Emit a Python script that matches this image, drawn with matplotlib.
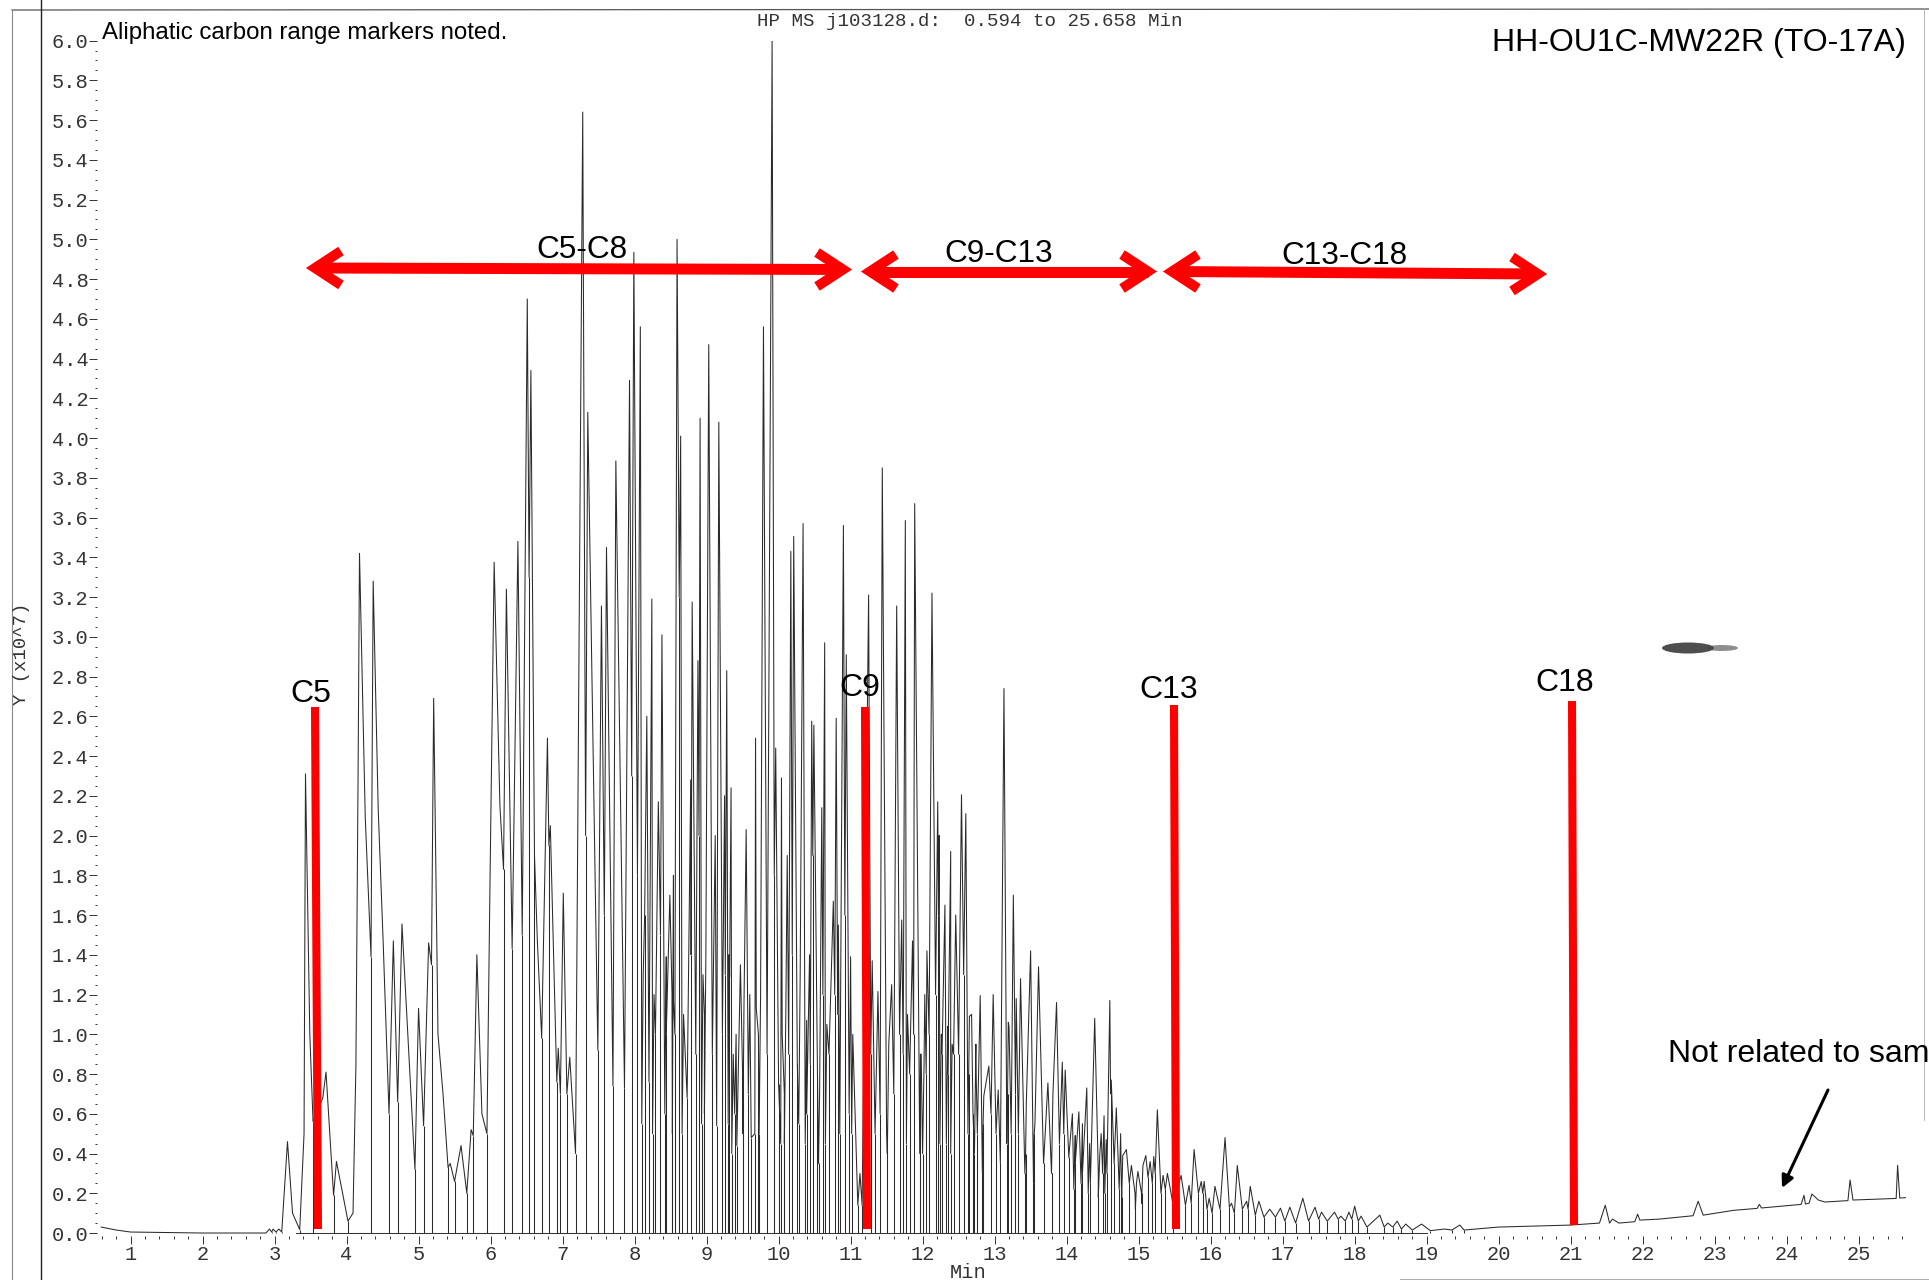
import matplotlib
matplotlib.use('Agg')
import matplotlib.pyplot as plt
import numpy as np
from matplotlib.patches import Ellipse

W, H = 1929, 1280

# flat start of the run, no drop lines
start_t = [0.594, 0.8, 1.0, 2.0, 2.88]
start_y = [0.03, 0.015, 0.005, 0.0, 0.0]

# peaks and valleys up to 8 min
early_peak_t = [2.93, 2.98, 3.06, 3.18, 3.43, 3.715, 3.86, 4.18, 4.37, 4.65, 4.77, 5.0, 5.14, 5.21, 5.44, 5.59, 5.73, 5.81,
                6.05, 6.22, 6.38, 6.51, 6.56, 6.65, 6.79, 6.83, 6.94, 7.01, 7.10, 7.28, 7.35, 7.54, 7.61, 7.74, 7.93, 7.99]
early_peak_y = [0.02, 0.02, 0.02, 0.46, 2.31, 0.81, 0.36, 3.42, 3.28, 1.47, 1.555, 1.13, 1.46, 2.69, 0.35, 0.44, 0.52, 1.40,
                3.375, 3.24, 3.48, 4.70, 4.34, 1.47, 2.49, 2.05, 0.93, 1.71, 0.885, 5.64, 4.13, 3.155, 3.45, 3.885, 4.29, 4.935]
early_valley_t = [2.96, 3.02, 3.10, 3.35, 3.535, 3.82, 4.02, 4.34, 4.59, 4.71, 4.95, 5.07, 5.18, 5.41, 5.50, 5.67, 5.76, 5.95,
                  6.18, 6.30, 6.44, 6.535, 6.61, 6.71, 6.81, 6.92, 6.97, 7.06, 7.18, 7.32, 7.49, 7.58, 7.70, 7.86, 7.96, 8.04]
early_valley_y = [0.005, 0.005, 0.005, 0.017, 0.56, 0.19, 0.06, 1.39, 0.60, 0.66, 0.32, 0.54, 1.35, 0.33, 0.26, 0.20, 0.49, 0.50,
                  1.83, 1.43, 1.5, 3.3, 1.9, 0.98, 1.95, 0.76, 0.70, 0.70, 0.40, 2.0, 0.92, 1.6, 0.74, 0.73, 2.3, 1.8]

# shoulders on the rounded early peaks, no drop lines
shoulder_t = [3.25, 3.41, 3.42, 3.49, 3.67, 4.09, 4.13, 4.16, 4.26, 4.44, 4.51, 5.27, 5.34, 5.88, 5.99, 6.13]
shoulder_y = [0.10, 0.50, 1.39, 1.00, 0.68, 0.10, 0.84, 2.29, 2.09, 2.13, 1.45, 1.00, 0.70, 0.60, 1.70, 2.15]

# crowded part 8-11 min
mid_peak_t = [8.08, 8.17, 8.24, 8.33, 8.38, 8.49, 8.54, 8.59, 8.64, 8.78, 8.80, 8.88, 8.91, 9.03, 9.12, 9.17, 9.25, 9.28, 9.34,
              9.41, 9.47, 9.55, 9.60, 9.68, 9.79, 9.91, 9.96, 10.04, 10.12, 10.17, 10.21, 10.34, 10.43, 10.46, 10.49, 10.60,
              10.64, 10.76, 10.80, 10.83, 10.90, 10.94, 11.13]
mid_peak_y = [4.56, 2.6, 3.19, 2.17, 3.01, 1.7, 1.80, 5.0, 4.01, 2.28, 3.175, 2.88, 4.10, 4.47, 2.0, 4.08, 2.2, 2.83, 2.24,
              1.0, 1.35, 2.03, 1.2, 2.49, 4.56, 6.0, 2.44, 2.29, 1.9, 3.43, 3.505, 3.57, 1.4, 2.575, 2.555, 2.14,
              2.97, 1.67, 2.59, 1.55, 3.56, 2.91, 0.3]
mid_valley_t = [8.14, 8.20, 8.29, 8.36, 8.44, 8.52, 8.56, 8.62, 8.73, 8.785, 8.85, 8.895, 8.97, 9.08, 9.14, 9.22, 9.26, 9.31, 9.39,
                9.42, 9.50, 9.58, 9.62, 9.72, 9.84, 9.94, 10.00, 10.08, 10.14, 10.19, 10.26, 10.39, 10.44, 10.475, 10.54, 10.615,
                10.70, 10.78, 10.82, 10.85, 10.92, 11.10, 11.16]
mid_valley_y = [1.6, 0.76, 1.0, 1.5, 1.0, 1.2, 1.0, 3.2, 0.68, 1.4, 0.9, 2.0, 1.1, 0.9, 0.54, 1.0, 1.3, 1.4, 0.6,
                0.44, 0.8, 0.7, 0.48, 1.0, 0.9, 1.8, 0.75, 0.7, 0.9, 1.4, 0.85, 0.6, 0.85, 1.9, 0.8, 1.2,
                0.9, 1.2, 1.1, 0.5, 1.6, 0.14, 0.14]

# 11-15.5 min
late_peak_t = [11.25, 11.30, 11.38, 11.44, 11.57, 11.64, 11.71, 11.76, 11.86, 11.89, 12.03, 12.06, 12.13, 12.21, 12.23, 12.31,
               12.39, 12.46, 12.54, 12.60, 12.68, 12.74, 12.80, 12.92, 12.98, 13.05, 13.13, 13.20, 13.26, 13.30, 13.36, 13.50,
               13.61, 13.74, 13.86, 13.94, 13.98, 14.08, 14.17, 14.28, 14.39, 14.48, 14.52, 14.60, 14.62, 14.69, 14.83, 14.90,
               14.99, 15.10, 15.16, 15.21, 15.26, 15.34, 15.40]
late_peak_y = [3.21, 1.37, 1.215, 3.85, 1.25, 3.155, 1.575, 3.585, 1.47, 3.67, 1.2, 1.42, 3.22, 2.17, 2.0, 1.65,
               1.92, 1.6, 2.205, 2.11, 1.1, 0.95, 1.195, 0.84, 1.2, 0.72, 2.74, 1.04, 1.70, 1.18, 1.28, 1.42,
               1.34, 0.755, 1.16, 0.86, 0.82, 0.60, 0.61, 0.73, 1.08, 0.5, 0.59, 1.17, 0.77, 0.63, 0.42, 0.34,
               0.31, 0.39, 0.36, 0.385, 0.62, 0.29, 0.30]
late_valley_t = [11.28, 11.34, 11.41, 11.50, 11.60, 11.68, 11.73, 11.82, 11.875, 11.97, 12.05, 12.09, 12.18, 12.22, 12.27, 12.35,
                 12.43, 12.50, 12.57, 12.64, 12.70, 12.76, 12.84, 12.95, 13.02, 13.08, 13.18, 13.23, 13.29, 13.33, 13.43, 13.55,
                 13.68, 13.79, 13.90, 13.96, 14.03, 14.12, 14.22, 14.33, 14.44, 14.50, 14.56, 14.61, 14.66, 14.76, 14.87, 14.95,
                 15.04, 15.13, 15.19, 15.23, 15.31, 15.37, 15.48]
late_valley_y = [0.9, 0.5, 0.6, 0.5, 0.7, 1.0, 0.9, 0.8, 1.0, 0.9, 0.8, 1.0, 1.2, 1.6, 0.9, 0.8,
                 0.9, 0.9, 1.3, 0.8, 0.6, 0.5, 0.55, 0.6, 0.5, 0.35, 0.7, 0.5, 0.7, 0.5, 0.4, 0.5,
                 0.35, 0.3, 0.45, 0.5, 0.38, 0.35, 0.3, 0.25, 0.3, 0.3, 0.3, 0.7, 0.35, 0.25, 0.25, 0.2,
                 0.2, 0.28, 0.25, 0.3, 0.2, 0.22, 0.14]

# smaller peaks on the flanks of the big ones, 8-15 min
fine_peak_t = [8.44, 8.54, 8.99, 9.32, 9.52, 9.69, 10.05, 10.39, 10.57, 11.00, 11.03, 11.98, 12.26, 12.35,
               12.65, 12.74, 12.85, 13.19, 13.44, 13.56, 13.81, 14.12, 14.22, 14.32, 14.46, 14.55, 14.75, 14.78, 14.97, 15.06,
               8.12, 8.27, 8.68, 8.95, 9.37, 9.75, 10.10, 10.30, 10.67, 11.53, 11.79, 12.02, 12.41]
fine_peak_y = [1.39, 1.17, 1.39, 1.29, 1.17, 1.13, 1.0, 1.07, 0.72, 1.39, 1.0, 0.9, 1.0, 1.04,
               1.09, 0.87, 0.69, 1.06, 0.65, 0.55, 0.70, 0.49, 0.55, 0.45, 0.39, 0.47, 0.5, 0.39, 0.25, 0.34,
               1.3, 1.2, 1.1, 1.3, 0.9, 1.2, 1.1, 1.3, 1.05, 0.95, 1.1, 0.85, 0.95]
fine_valley_t = [8.42, 8.525, 8.97, 9.30, 9.505, 9.67, 10.03, 10.37, 10.555, 10.98, 11.015, 11.96, 12.24, 12.33,
                 12.63, 12.72, 12.83, 13.17, 13.42, 13.54, 13.79, 14.10, 14.20, 14.30, 14.44, 14.53, 14.73, 14.765, 14.955, 15.04,
                 8.10, 8.25, 8.66, 8.93, 9.35, 9.73, 10.08, 10.28, 10.65, 11.51, 11.775, 12.0, 12.39]
fine_valley_y = [0.6, 0.5, 0.6, 0.55, 0.5, 0.5, 0.45, 0.45, 0.35, 0.6, 0.5, 0.4, 0.45, 0.45,
                 0.5, 0.4, 0.3, 0.45, 0.3, 0.25, 0.3, 0.22, 0.25, 0.2, 0.18, 0.2, 0.22, 0.18, 0.12, 0.15,
                 0.55, 0.5, 0.5, 0.55, 0.4, 0.5, 0.45, 0.55, 0.45, 0.4, 0.45, 0.4, 0.4]

# small peaks after C13
tail_peak_t = [15.59, 15.70, 15.77, 15.87, 15.91, 15.98, 16.06, 16.20, 16.29, 16.37, 16.50, 16.55, 16.67, 16.82, 16.97, 17.10,
               17.28, 17.45, 17.54, 17.72, 17.81, 17.92, 18.0, 18.09, 18.35, 18.46, 18.59, 18.71, 18.93, 19.25, 19.46]
tail_peak_y = [0.29, 0.24, 0.42, 0.26, 0.26, 0.175, 0.235, 0.48, 0.15, 0.34, 0.16, 0.235, 0.16, 0.12, 0.125, 0.13,
               0.175, 0.13, 0.105, 0.105, 0.085, 0.105, 0.135, 0.085, 0.09, 0.05, 0.06, 0.045, 0.045, 0.02, 0.04]
tail_valley_t = [15.65, 15.73, 15.83, 15.89, 15.95, 16.02, 16.13, 16.26, 16.33, 16.44, 16.52, 16.62, 16.74, 16.90, 17.03, 17.18,
                 17.36, 17.50, 17.62, 17.77, 17.87, 17.96, 18.05, 18.17, 18.41, 18.53, 18.65, 18.80, 19.05, 19.35, 19.52]
tail_valley_y = [0.14, 0.15, 0.2, 0.2, 0.12, 0.1, 0.12, 0.13, 0.1, 0.12, 0.12, 0.09, 0.08, 0.08, 0.06, 0.05,
                 0.06, 0.07, 0.06, 0.07, 0.06, 0.07, 0.06, 0.03, 0.03, 0.03, 0.02, 0.015, 0.012, 0.015, 0.015]

# rising baseline at the end of the run, no drop lines
end_t = [20.0, 21.0, 21.4, 21.48, 21.54, 21.58, 21.67, 21.89, 21.93, 21.96, 22.23, 22.70, 22.77, 22.84, 23.26, 23.59, 23.62, 23.65,
         24.20, 24.24, 24.26, 24.31, 24.35, 24.44, 24.53, 24.85, 24.88, 24.92, 25.52, 25.54, 25.57, 25.65]
end_y = [0.03, 0.04, 0.05, 0.14, 0.05, 0.07, 0.05, 0.057, 0.095, 0.065, 0.07, 0.087, 0.16, 0.09, 0.114, 0.124, 0.144, 0.126,
         0.144, 0.19, 0.146, 0.15, 0.196, 0.166, 0.156, 0.163, 0.267, 0.166, 0.174, 0.34, 0.176, 0.178]

valley_t = np.array(early_valley_t + mid_valley_t + late_valley_t + fine_valley_t + tail_valley_t)
valley_y = np.array(early_valley_y + mid_valley_y + late_valley_y + fine_valley_y + tail_valley_y)
peak_t = np.array(early_peak_t + mid_peak_t + late_peak_t + fine_peak_t + tail_peak_t)
peak_y = np.array(early_peak_y + mid_peak_y + late_peak_y + fine_peak_y + tail_peak_y)

trace_t = np.concatenate([start_t, peak_t, valley_t, shoulder_t, end_t])
trace_y = np.concatenate([start_y, peak_y, valley_y, shoulder_y, end_y])
order = np.argsort(trace_t, kind='stable')

# 1 min is 72.01 px, 0 min sits at x=58.5, 0.0 at y=1233, 6.0 at y=40.6
left = 97
right = 1906.1
top = 40.6
bottom = 1236

fig = plt.figure(figsize=(W / 100, H / 100), dpi=100)
ax = fig.add_axes([left / W, 1 - bottom / H, (right - left) / W, (bottom - top) / H])
ax.set_xlim((left - 58.5) / 72.01, 25.658)
ax.set_ylim(-0.015, 6.0)

ink = '#333333'
ax.plot(trace_t[order], trace_y[order], color='#2a2a2a', lw=0.75)
ax.vlines(valley_t, 0, valley_y, color='#2a2a2a', lw=0.75)
ax.plot([3.3, 19.0], [0, 0], color=ink, lw=0.75)

for s in ax.spines.values():
    s.set_visible(False)

ax.set_xticks(np.arange(1, 26))
ax.set_xticks(np.arange(0.6, 25.7, 0.2), minor=True)
ax.set_yticks(np.arange(0, 6.01, 0.2))
ax.set_yticks(np.arange(0, 6.01, 0.05), minor=True)
ax.set_yticklabels(['%.1f' % v for v in np.arange(0, 6.01, 0.2)])
ax.tick_params(which='major', axis='x', length=5.8, width=0.7, color=ink, pad=1)
ax.tick_params(which='minor', axis='x', length=2.2, width=0.7, color=ink)
ax.tick_params(which='major', axis='y', length=6, width=0.7, color=ink, pad=0)
ax.tick_params(which='minor', axis='y', length=1.7, width=0.7, color=ink)
for lab in ax.get_xticklabels() + ax.get_yticklabels():
    lab.set_family('Liberation Mono')
    lab.set_fontsize(14.7)
    lab.set_color(ink)

# everything added by hand on the printout goes on a pixel overlay
over = fig.add_axes([0, 0, 1, 1])
over.set_xlim(0, W)
over.set_ylim(H, 0)
over.axis('off')
over.patch.set_alpha(0)

# frame of the scanned page
over.plot([12, W], [10, 9], color='#555555', lw=0.9)
over.plot([41, 41], [0, H], color='#222222', lw=1.0)
over.plot([12, 12], [10, H], color='#888888', lw=0.8)
over.plot([1924, 1924], [8, 1120], color='#aaaaaa', lw=0.6)
over.plot([1400, W], [1279, 1279], color='#aaaaaa', lw=0.7)

# scanner smudge
over.add_patch(Ellipse((1688, 648), 52, 11, color='#222222', alpha=0.8, lw=0))
over.add_patch(Ellipse((1722, 648), 32, 6, color='#444444', alpha=0.6, lw=0))

mono = 'Liberation Mono'
over.text(970, 21, 'HP MS j103128.d:  0.594 to 25.658 Min', family=mono, fontsize=13.8, color=ink, ha='center', va='center')
over.text(968, 1272, 'Min', family=mono, fontsize=14.7, color=ink, ha='center', va='center')
over.text(22, 654, 'Y (x10^7)', family=mono, fontsize=13.6, color=ink, ha='center', va='center', rotation=90)

red = '#ff0000'
# carbon markers
bars = [(315, 707, 318, 1229, 'C5', 311, 694), (865, 707, 867, 1229, 'C9', 860, 688),
        (1174, 705, 1176, 1229, 'C13', 1169, 690), (1572, 701, 1574, 1225, 'C18', 1565, 683)]
for x0, y0, x1, y1, name, tx, ty in bars:
    over.plot([x0, x1], [y0, y1], color=red, lw=5.8, solid_capstyle='butt')
    over.text(tx, ty, name, family='Liberation Sans', fontsize=23, ha='center', va='center')


def range_arrow(x0, y0, x1, y1):
    over.plot([x0 + 9, x1 - 9], [y0, y1], color=red, lw=7.9, solid_capstyle='butt')
    over.plot([x0 + 35, x0 + 9, x0 + 35], [y0 - 17, y0, y0 + 17], color=red, lw=7.2,
              solid_joinstyle='miter', solid_capstyle='butt')
    over.plot([x1 - 35, x1 - 9, x1 - 35], [y1 - 17, y1, y1 + 17], color=red, lw=7.2,
              solid_joinstyle='miter', solid_capstyle='butt')


range_arrow(306, 268, 852, 269.5)
range_arrow(861, 271.5, 1157, 271.5)
range_arrow(1163, 271.5, 1547, 274)

over.text(582, 249.5, 'C5-C8', family='Liberation Sans', fontsize=22.7, ha='center', va='center')
over.text(999, 254.5, 'C9-C13', family='Liberation Sans', fontsize=22.7, ha='center', va='center')
over.text(1344, 256.5, 'C13-C18', family='Liberation Sans', fontsize=22.7, ha='center', va='center')

over.text(102, 33, 'Aliphatic carbon range markers noted.', family='Liberation Sans', fontsize=17.25, ha='left', va='center')
over.text(1906, 43.5, 'HH-OU1C-MW22R (TO-17A)', family='Liberation Sans', fontsize=23, ha='right', va='center')
over.text(1668, 1054.5, 'Not related to sam', family='Liberation Sans', fontsize=23, ha='left', va='center')

over.annotate('', xy=(1782, 1188), xytext=(1828, 1090),
              arrowprops=dict(arrowstyle='-|>', color='black', lw=2.2, mutation_scale=18, shrinkA=0, shrinkB=0))

fig.savefig('out.png', dpi=100)
